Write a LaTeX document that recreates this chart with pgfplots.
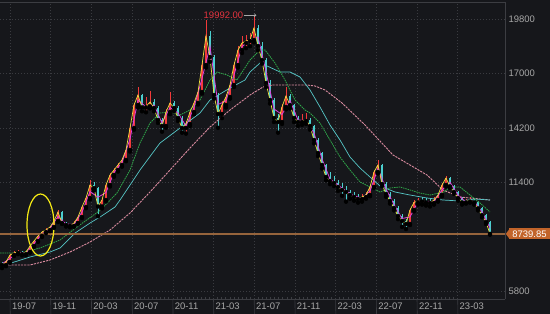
\documentclass[border=0pt]{standalone}
\usepackage{pgfplots}
\pgfplotsset{compat=1.18}
\usepackage{pgfplotstable}
\usepackage{fontspec}
\setmainfont{Liberation Sans}
\usetikzlibrary{arrows.meta}
\definecolor{bgc}{HTML}{16171B}
\definecolor{gridc}{HTML}{3A3B40}
\definecolor{framec}{HTML}{3C3D42}
\definecolor{tickc}{HTML}{A8A8A8}
\definecolor{upc}{HTML}{F23A3A}
\definecolor{downc}{HTML}{4CCFCF}
\definecolor{ma5}{HTML}{F0E040}
\definecolor{ma10}{HTML}{E040DC}
\definecolor{ma60}{HTML}{2FA84A}
\definecolor{ma120}{HTML}{56C6C6}
\definecolor{ma250}{HTML}{D88A9E}
\definecolor{pricelinec}{RGB}{150,100,60}
\definecolor{lastbox}{HTML}{C2642A}
\definecolor{annc}{HTML}{E5343F}
\definecolor{ellc}{HTML}{F5EA14}

\pgfplotstableread{
x o c h l
0 7250 7139 7300 6980
1 7139 7293 7360 7080
2 7293 7653 7720 7250
3 7653 7756 7850 7600
4 7756 7820 7900 7700
5 7820 7700 7880 7640
6 7700 7808 7870 7650
7 7808 8116 8180 7780
8 8116 8373 8440 8080
9 8373 8631 8700 8330
10 8631 8837 8900 8580
11 8837 8940 9020 8780
12 8940 9094 9170 8880
13 9094 9403 9480 9050
14 9403 9866 9960 9350
15 9866 9300 9900 9250
16 9300 9197 9360 9120
17 9197 9150 9260 9080
18 9150 9300 9380 9100
19 9300 9609 9680 9260
20 9609 10124 10200 9560
21 10124 10587 10680 10060
22 10587 11256 11513 10520
23 11256 11100 11400 10980
24 11100 10150 11150 9650
25 10150 10484 10580 10050
26 10484 11256 11340 10420
27 11256 11771 11860 11180
28 11771 12028 12130 11680
29 12028 12286 12400 11950
30 12286 12543 12660 12200
31 12543 13058 13200 12480
32 13058 14190 14300 12980
33 14190 15374 15500 14100
34 15374 15888 16300 15250
35 15888 15250 15950 15050
36 15250 15300 15800 15000
37 15300 15528 16100 15200
38 15528 15219 15700 15050
39 15219 14602 15300 14450
40 14602 14293 14700 14000
41 14293 15013 15150 14200
42 15013 15477 16050 14900
43 15477 15219 15600 15050
44 15219 14705 15300 14550
45 14705 14190 14800 13950
46 14190 14396 14550 13900
47 14396 15013 15150 14300
48 15013 15477 15600 14900
49 15477 16043 16200 15400
50 16043 17432 17600 15950
51 17432 18925 19750 17300
52 18925 17844 19200 17600
53 17844 15888 17950 15700
54 15888 14911 16000 14200
55 14911 15374 15600 14700
56 15374 15786 15950 15250
57 15786 16403 16550 15700
58 16403 17432 17600 16300
59 17432 18205 18400 17300
60 18205 18565 18900 18050
61 18565 18668 19000 18300
62 18668 18719 19100 18400
63 18719 19337 19992 18600
64 19337 18410 19500 18200
65 18410 17690 18600 17500
66 17690 16506 17800 16300
67 16506 15631 16650 15450
68 15631 14705 15750 14500
69 14705 14499 14900 13950
70 14499 15270 15400 14400
71 15270 15837 16300 15150
72 15837 15374 15950 15200
73 15374 14705 15450 14500
74 14705 14499 14800 14300
75 14499 14550 14900 14350
76 14550 14602 14950 14400
77 14602 14293 14700 14100
78 14293 13572 14350 13400
79 13572 12903 13650 12750
80 12903 12286 12980 12100
81 12286 11668 12350 11500
82 11668 11462 11900 11300
83 11462 11359 11700 11200
84 11359 11153 11500 10950
85 11153 10999 11350 10700
86 10999 10895 11200 10400
87 10895 10741 11000 10550
88 10741 10638 10900 10450
89 10638 10535 10780 10350
90 10535 10638 10800 10400
91 10638 10741 10900 10550
92 10741 11153 11250 10680
93 11153 11925 12050 11100
94 11925 12286 12540 11850
95 12286 11307 12350 11200
96 11307 10793 11400 10650
97 10793 10432 10900 10300
98 10432 10072 10550 9950
99 10072 9660 10150 9500
100 9660 9403 9750 9100
101 9403 9250 9500 8990
102 9250 9970 10050 9200
103 9970 10360 10480 9900
104 10360 10432 10600 10250
105 10432 10400 10650 10250
106 10400 10360 10600 10200
107 10360 10329 10550 10150
108 10329 10484 10650 10250
109 10484 10741 10850 10400
110 10741 11256 11350 10680
111 11256 11616 11720 11180
112 11616 11183 11680 11100
113 11183 10895 11250 10800
114 10895 10587 10950 10450
115 10587 10360 10650 10250
116 10360 10400 10550 10300
117 10400 10484 10650 10350
118 10484 10360 10600 10250
119 10360 10050 10420 9950
120 10050 9700 10120 9600
121 9700 9350 9780 9250
122 9350 8740 9400 8700
}\candles

\begin{document}
\begin{tikzpicture}
\fill[bgc] (0,0) rectangle (550bp,314bp);
\useasboundingbox (0,0) rectangle (550bp,314bp);
\begin{axis}[
  at={(0,15bp)}, anchor=south west,
  scale only axis, width=505bp, height=297bp,
  xmin=-0.5, xmax=125.75, ymin=5389, ymax=20675,
  clip=false,
  scaled x ticks=false, scaled y ticks=false,
  axis line style={draw=none},
  xtick={2,12.175,22.35,32.525,42.7,52.875,63.05,73.225,83.4,93.575,103.75,113.925},
  xticklabels={19-07,19-11,20-03,20-07,20-11,21-03,21-07,21-11,22-03,22-07,22-11,23-03},
  minor x tick num=9,
  xtick pos=bottom,
  ytick={5800,11400,14200,17000,19800},
  yticklabels={5800,11400,14200,17000,19800},
  ytick pos=right, yticklabel pos=right,
  grid=major,
  grid style={gridc, line width=0.6bp, dash pattern=on 1bp off 2bp},
  major tick length=0pt,
  minor tick length=2.5bp,
  tick align=inside,
  tick style={framec, line width=0.5bp},
  ytick style={draw=none},
  xticklabel style={anchor=north west, xshift=-1.5bp, yshift=0bp, text=tickc, font=\fontsize{9.5}{11}\selectfont},
  yticklabel style={anchor=west, text=tickc, font=\fontsize{9.5}{11}\selectfont},
]
% up candles
\addplot[only marks, mark=none, forget plot,
  restrict expr to domain={\thisrow{c}-\thisrow{o}}{0:100000},
  error bars/.cd, y dir=plus, y explicit, error mark=none,
  error bar style={upc, line width=0.6bp}]
  table[x=x, y=l, y error expr=\thisrow{h}-\thisrow{l}] {\candles};
\addplot[only marks, mark=none, forget plot,
  restrict expr to domain={\thisrow{c}-\thisrow{o}}{0:100000},
  error bars/.cd, y dir=plus, y explicit, error mark=none,
  error bar style={upc, line width=2.6bp}]
  table[x=x, y=o, y error expr=\thisrow{c}-\thisrow{o}] {\candles};
% down candles
\addplot[only marks, mark=none, forget plot,
  restrict expr to domain={\thisrow{c}-\thisrow{o}}{-100000:-0.01},
  error bars/.cd, y dir=plus, y explicit, error mark=none,
  error bar style={downc, line width=0.6bp}]
  table[x=x, y=l, y error expr=\thisrow{h}-\thisrow{l}] {\candles};
\addplot[only marks, mark=none, forget plot,
  restrict expr to domain={\thisrow{c}-\thisrow{o}}{-100000:-0.01},
  error bars/.cd, y dir=plus, y explicit, error mark=none,
  error bar style={downc, line width=2.6bp}]
  table[x=x, y=c, y error expr=\thisrow{o}-\thisrow{c}] {\candles};
% MA250 (pink)
\addplot[draw=ma250, mark=none, line width=0.9bp, dash pattern=on 2.2bp off 1bp] coordinates {
(0.75,7139) (7,7139) (12,7396) (17,7808) (22,8322) (27,8940) (32,9815) (37,10896)
(42,12028) (47,13160) (52,14241) (57,15116) (62,15888) (65.25,16300) (67.75,16403)
(76.25,16403) (78.25,16352) (80.75,16146) (85,15477) (90.75,14344) (97.75,12800)
(102,12286) (106.25,11771) (110.25,10999) (114.5,10638) (122,10484)};
% MA120 (cyan)
\addplot[draw=ma120, mark=none, line width=0.7bp] coordinates {
(1.5,7190) (7,7550) (12,7808) (14.5,8013) (18.25,8785) (22,9300) (24.5,9609)
(28.25,10124) (29.5,10484) (34.5,12028) (39.5,13418) (44.5,14190) (49.5,14962)
(52,15631) (57,16249) (60.75,16660) (62,17072) (64.5,17535) (65.75,17432)
(69.5,17072) (72,17072) (74.5,16815) (77,16146) (79.5,15271) (82,14344)
(84.5,13572) (87,12697) (89.5,12131) (92,11668) (94.5,11205) (98.25,10896)
(102,10741) (106.25,10587) (110.25,10484) (114.5,10432) (118.25,10535) (122,10484)};
% MA60 (green)
\addplot[draw=ma60, mark=none, line width=0.8bp, dash pattern=on 1.5bp off 0.8bp] coordinates {
(-0.5,7756) (4.5,7756) (9.5,8013) (14.5,8425) (18.75,9094) (24.5,9947) (28.75,10844)
(32,12028) (34.5,13418) (37,14447) (39.5,14962) (42,15013) (44.5,14859) (47,15116)
(49.5,15631) (52,16660) (53.75,17072) (56.25,16918) (58.75,16660) (62,17690)
(64.5,18205) (65.75,18205) (68.25,17535) (70.75,16660) (73.25,15631) (75.75,15116)
(77,14962) (79.5,14447) (82,13572) (84.5,12697) (87,12028) (89.5,11410) (92,11153)
(94.5,10896) (97,11101) (99.5,11153) (102,10999) (104.5,10844) (107,10741)
(110.5,10896) (112,11153) (114.5,11153) (117,10741) (119.5,10330) (122,9866)};
% MA10 (magenta)
\addplot[draw=ma10, mark=none, line width=0.8bp] coordinates {
(0,7200) (2,7473) (4,7788) (6,7754) (8,8245) (10,8734) (12,9017) (14,9635) (16,9249)
(18,9225) (20,9867) (22,10922) (24,10625) (26,10870) (28,11900) (30,12415) (32,13624)
(34,15631) (36,15275) (38,15374) (40,14448) (42,15245) (44,14962) (46,14293)
(48,15245) (50,16738) (52,18385) (54,15400) (56,15580) (58,16918) (60,18385)
(62,18694) (64,18874) (66,17098) (68,15168) (70,14885) (72,15606) (74,14602)
(76,14576) (78,13933) (80,12595) (82,11565) (84,11256) (86,10947) (88,10690)
(90,10587) (92,10947) (94,12106) (96,11050) (98,10252) (100,9532) (102,9610)
(104,10396) (106,10380) (108,10407) (110,10999) (112,11400) (114,10741)
(116,10380) (118,10422) (120,9875) (122,9045)};
% MA5 (yellow) follows closes
\addplot[draw=ma5, mark=none, line width=0.7bp] table[x=x, y=c] {\candles};
% last price line
\addplot[draw=pricelinec, line width=1.3bp, mark=none, forget plot] coordinates {(-0.5,8739.85) (125.75,8739.85)};
% frame
\draw[framec, line width=0.7bp] (rel axis cs:0,0) -- (rel axis cs:1,0);
\draw[framec, line width=0.7bp] (rel axis cs:1,0) -- (rel axis cs:1,1);
\draw[framec, line width=0.7bp] (rel axis cs:0,1) -- (rel axis cs:1,1);
\pgfplotsinvokeforeach{2,12.175,22.35,32.525,42.7,52.875,63.05,73.225,83.4,93.575,103.75,113.925}{
  \draw[gridc, line width=0.6bp] (axis cs:#1,5389) -- ++(0,-15bp);
}
% annotation of the high
\draw[tickc, line width=0.5bp, -{To[length=2.5bp,width=3.5bp]}] (axis cs:60.45,19992) -- (axis cs:63.6,19992);
\node[anchor=east, inner sep=0pt, text=annc, font=\fontsize{9.5}{11}\selectfont] at (axis cs:60.35,20000) {19992.00};
% highlight ellipse
\draw[ellc, line width=1.2bp] (axis cs:9.625,9197) ellipse [x radius=13.5bp, y radius=31bp];
\coordinate (lp) at (axis cs:125.75,8739.85);
\end{axis}
\fill[lastbox] ([xshift=0.8bp]lp) -- ([xshift=4.2bp,yshift=4.5bp]lp) -- ([xshift=4.2bp,yshift=-4.5bp]lp) -- cycle;
\node[fill=lastbox, text=white, anchor=west, inner xsep=3.2bp, inner ysep=0pt,
  minimum height=10.8bp, font=\fontsize{9.5}{11}\selectfont] at ([xshift=4bp]lp) {8739.85};
\end{tikzpicture}
\end{document}
